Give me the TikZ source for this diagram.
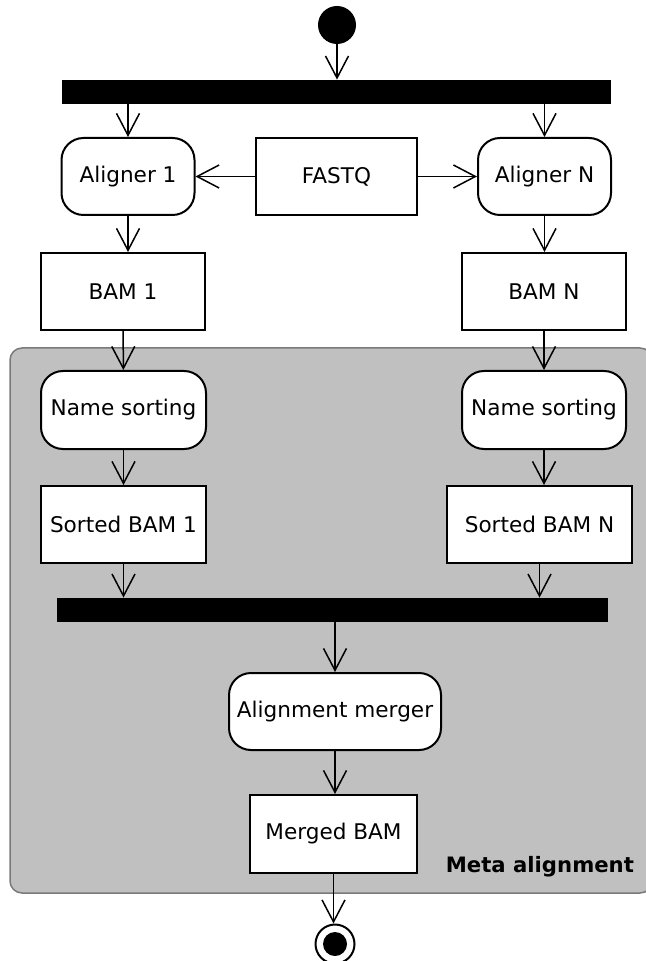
\documentclass[tikz,border=0pt]{standalone}
\usepackage{fontspec}
\setmainfont{DejaVu Sans}
\usepackage{tikz}
\usepackage{xcolor}
\usetikzlibrary{arrows.meta}

\definecolor{regionfill}{HTML}{C0C0C0}
\definecolor{regionline}{HTML}{7A7A7A}

\begin{document}
\begin{tikzpicture}[x=0.5pt,y=-0.5pt,
    every node/.style={font=\fontsize{10.8}{13}\selectfont},
    act/.style={draw,line width=1pt,fill=white,rounded corners=11pt,minimum height=38.5pt},
    obj/.style={draw,line width=1pt,fill=white,minimum height=38.5pt},
    bar/.style={fill=black,minimum height=12pt,inner sep=0pt},
    flow/.style={line width=0.75pt,-{Straight Barb[length=11pt,width=11.5pt,line width=0.75pt]}}]
            \useasboundingbox (0,0) rectangle (646,961);
            \clip (0,0) rectangle (646,961);

            % meta alignment region
            \draw[line width=0.75pt,draw=regionline,fill=regionfill,rounded corners=6pt] (10,348) rectangle (652,893);
            \node[anchor=base east,font=\fontsize{10.6}{13}\selectfont\bfseries] (meta) at (641,872) {Meta alignment};

            % start and fork
            \node[circle,fill=black,minimum size=19pt,inner sep=0pt] (start) at (337,25) {};
            \node[bar,minimum width=274.5pt] (fork) at (336.5,92) {};

            % aligners
            \node[act,minimum width=66.5pt] (al1) at (128,176.5) {Aligner 1};
            \node[obj,minimum width=80.5pt] (fastq) at (336.5,176.5) {FASTQ};
            \node[act,minimum width=66.5pt] (alN) at (544.5,176.5) {Aligner N};

            \node[obj,minimum width=82pt] (bam1) at (123,291.5) {BAM 1};
            \node[obj,minimum width=82pt] (bamN) at (544,291.5) {BAM N};

            % sorting inside region
            \node[act,minimum width=82.5pt,minimum height=39pt] (sort1) at (123.5,410) {Name sorting};
            \node[act,minimum width=82pt,minimum height=39pt] (sortN) at (544,410) {Name sorting};

            \node[obj,minimum width=82.5pt] (sbam1) at (123.5,524.5) {Sorted BAM 1};
            \node[obj,minimum width=92.5pt] (sbamN) at (539.5,524.5) {Sorted BAM N};

            \node[bar,minimum width=275.5pt] (join) at (332.5,610) {};

            \node[act,minimum width=106pt] (merger) at (335,711.5) {Alignment merger};
            \node[obj,minimum width=83.5pt,minimum height=39pt] (merged) at (333.5,834) {Merged BAM};

            % end
            \node[circle,draw,line width=1pt,fill=white,minimum size=19.5pt,inner sep=0pt] (stop) at (335,944) {};
            \node[circle,fill=black,minimum size=12pt,inner sep=0pt] (stopin) at (stop) {};

            % flows
            \draw[flow] (start) -- (start |- fork.north);
            \draw[flow] (al1.north |- fork.south) -- (al1.north);
            \draw[flow] (alN.north |- fork.south) -- (alN.north);
            \draw[flow] (fastq) -- (al1);
            \draw[flow] (fastq) -- (alN);
            \draw[flow] (al1) -- (al1.south |- bam1.north);
            \draw[flow] (alN) -- (alN.south |- bamN.north);
            \draw[flow] (bam1) -- (sort1);
            \draw[flow] (bamN) -- (sortN);
            \draw[flow] (sort1) -- (sbam1);
            \draw[flow] (sortN) -- (sortN.south |- sbamN.north);
            \draw[flow] (sbam1) -- (sbam1.south |- join.north);
            \draw[flow] (sbamN) -- (sbamN.south |- join.north);
            \draw[flow] (join.south -| merger.north) -- (merger.north);
            \draw[flow] (merger) -- (merger.south |- merged.north);
            \draw[flow] (merged) -- (merged.south |- stop.north);
        \end{tikzpicture}
\end{document}
